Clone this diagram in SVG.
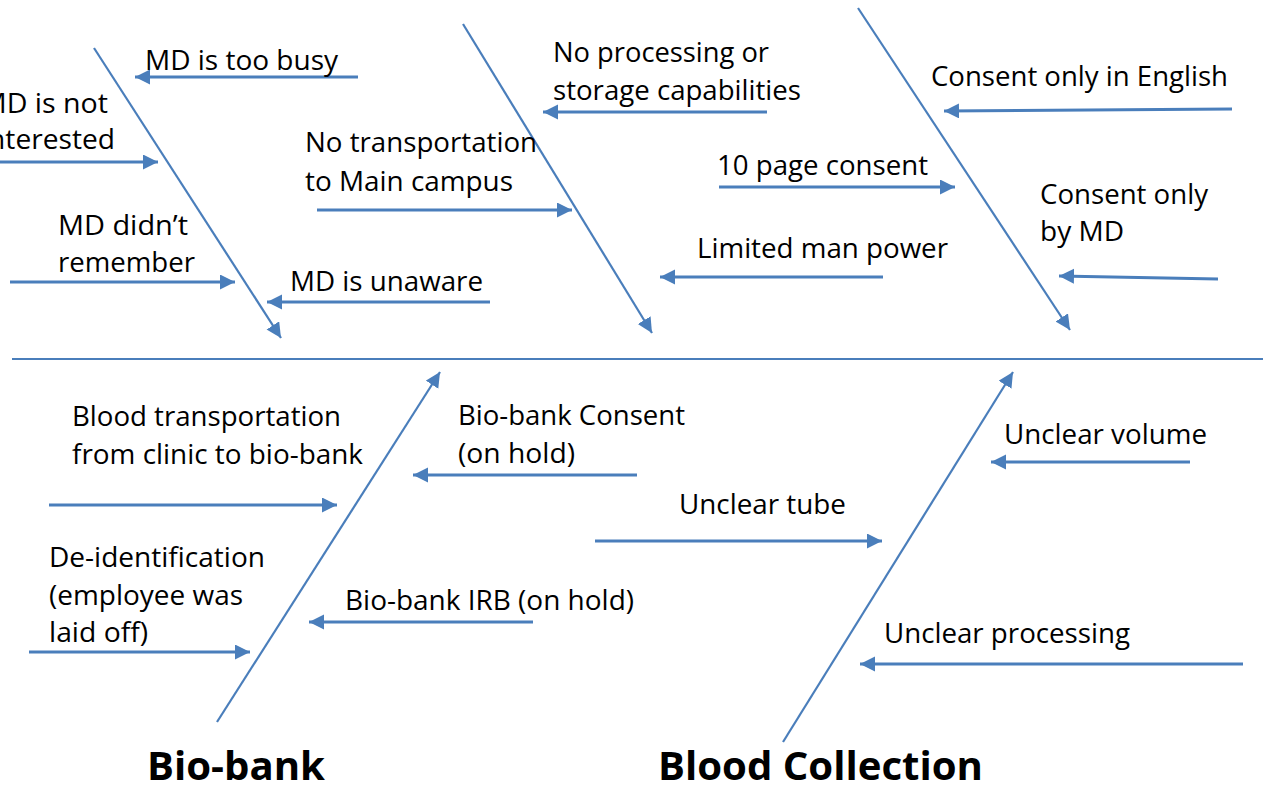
<svg xmlns="http://www.w3.org/2000/svg" width="1263" height="789" viewBox="0 0 1263 789">
<style>
.ln{stroke:#4a7ebb;stroke-width:2.2;fill:none}
.ar{stroke:#4a7ebb;stroke-width:2.8;fill:none;marker-end:url(#ah)}
.bn{stroke:#4a7ebb;stroke-width:2.2;fill:none;marker-end:url(#ah)}
.t{font-family:"Open Sans","Liberation Sans",sans-serif;font-size:28px;fill:#000}
.h{font-family:"Open Sans","Liberation Sans",sans-serif;font-size:39px;font-weight:bold;fill:#000}
</style>
<defs>
<marker id="ah" markerUnits="userSpaceOnUse" markerWidth="16" markerHeight="16" refX="15" refY="7.5" orient="auto">
<path d="M0,0 L15,7.5 L0,15 z" fill="#4a7ebb"/>
</marker>
</defs>
<rect width="1263" height="789" fill="#fff"/>
<g id="spine"><line class="ln" x1="12" y1="359" x2="1263" y2="359"/></g>
<g id="connectors">
<line class="bn" x1="94" y1="48" x2="281" y2="338"/>
<line class="bn" x1="463" y1="24" x2="652" y2="333"/>
<line class="bn" x1="858" y1="8" x2="1070" y2="330"/>
<line class="bn" x1="217" y1="722" x2="440" y2="372"/>
<line class="bn" x1="783" y1="742" x2="1013" y2="372"/>
<line class="ar" x1="358" y1="77" x2="135" y2="77"/>
<line class="ar" x1="0" y1="162" x2="158" y2="162"/>
<line class="ar" x1="10" y1="282" x2="235" y2="282"/>
<line class="ar" x1="490" y1="302" x2="267" y2="302"/>
<line class="ar" x1="317" y1="210" x2="572" y2="210"/>
<line class="ar" x1="767" y1="112" x2="543" y2="112"/>
<line class="ar" x1="719" y1="187" x2="955" y2="187"/>
<line class="ar" x1="883" y1="277" x2="660" y2="277"/>
<line class="ar" x1="1232" y1="109" x2="944" y2="111"/>
<line class="ar" x1="1218" y1="279" x2="1059" y2="276"/>
<line class="ar" x1="49" y1="505" x2="337" y2="505"/>
<line class="ar" x1="637" y1="475" x2="413" y2="475"/>
<line class="ar" x1="29" y1="652" x2="250" y2="652"/>
<line class="ar" x1="533" y1="622" x2="309" y2="622"/>
<line class="ar" x1="595" y1="541" x2="882" y2="541"/>
<line class="ar" x1="1190" y1="462" x2="991" y2="462"/>
<line class="ar" x1="1243" y1="664" x2="860" y2="664"/>
</g>
<g id="n-busy"><text class="t" x="145" y="70" textLength="193" lengthAdjust="spacingAndGlyphs">MD is too busy</text></g>
<g id="n-notinterested"><text class="t" x="-19" y="113" textLength="127" lengthAdjust="spacingAndGlyphs">MD is not</text><text class="t" x="-19" y="149" textLength="134" lengthAdjust="spacingAndGlyphs">interested</text></g>
<g id="n-didnt"><text class="t" x="58" y="235" textLength="130" lengthAdjust="spacingAndGlyphs">MD didn’t</text><text class="t" x="58" y="272" textLength="137" lengthAdjust="spacingAndGlyphs">remember</text></g>
<g id="n-unaware"><text class="t" x="290" y="291" textLength="193" lengthAdjust="spacingAndGlyphs">MD is unaware</text></g>
<g id="n-transport"><text class="t" x="305" y="152" textLength="232" lengthAdjust="spacingAndGlyphs">No transportation</text><text class="t" x="305" y="191" textLength="208" lengthAdjust="spacingAndGlyphs">to Main campus</text></g>
<g id="n-processing"><text class="t" x="553" y="62" textLength="216" lengthAdjust="spacingAndGlyphs">No processing or</text><text class="t" x="553" y="100" textLength="248" lengthAdjust="spacingAndGlyphs">storage capabilities</text></g>
<g id="n-10page"><text class="t" x="717" y="175" textLength="211" lengthAdjust="spacingAndGlyphs">10 page consent</text></g>
<g id="n-manpower"><text class="t" x="697" y="258" textLength="251" lengthAdjust="spacingAndGlyphs">Limited man power</text></g>
<g id="n-english"><text class="t" x="931" y="86" textLength="297" lengthAdjust="spacingAndGlyphs">Consent only in English</text></g>
<g id="n-bymd"><text class="t" x="1040" y="204" textLength="168" lengthAdjust="spacingAndGlyphs">Consent only</text><text class="t" x="1040" y="241" textLength="84" lengthAdjust="spacingAndGlyphs">by MD</text></g>
<g id="n-bloodtransport"><text class="t" x="72" y="426" textLength="269" lengthAdjust="spacingAndGlyphs">Blood transportation</text><text class="t" x="72" y="464" textLength="291" lengthAdjust="spacingAndGlyphs">from clinic to bio-bank</text></g>
<g id="n-bbconsent"><text class="t" x="458" y="425" textLength="227" lengthAdjust="spacingAndGlyphs">Bio-bank Consent</text><text class="t" x="458" y="463" textLength="117" lengthAdjust="spacingAndGlyphs">(on hold)</text></g>
<g id="n-deid"><text class="t" x="49" y="567" textLength="216" lengthAdjust="spacingAndGlyphs">De-identification</text><text class="t" x="49" y="605" textLength="194" lengthAdjust="spacingAndGlyphs">(employee was</text><text class="t" x="49" y="642" textLength="99" lengthAdjust="spacingAndGlyphs">laid off)</text></g>
<g id="n-irb"><text class="t" x="345" y="610" textLength="289" lengthAdjust="spacingAndGlyphs">Bio-bank IRB (on hold)</text></g>
<g id="n-tube"><text class="t" x="679" y="514" textLength="167" lengthAdjust="spacingAndGlyphs">Unclear tube</text></g>
<g id="n-volume"><text class="t" x="1004" y="444" textLength="203" lengthAdjust="spacingAndGlyphs">Unclear volume</text></g>
<g id="n-unclearproc"><text class="t" x="884" y="643" textLength="246" lengthAdjust="spacingAndGlyphs">Unclear processing</text></g>
<g id="h-biobank"><text class="h" x="147" y="780" textLength="178" lengthAdjust="spacingAndGlyphs">Bio-bank</text></g>
<g id="h-bloodcollection"><text class="h" x="658" y="780" textLength="325" lengthAdjust="spacingAndGlyphs">Blood Collection</text></g>
</svg>
